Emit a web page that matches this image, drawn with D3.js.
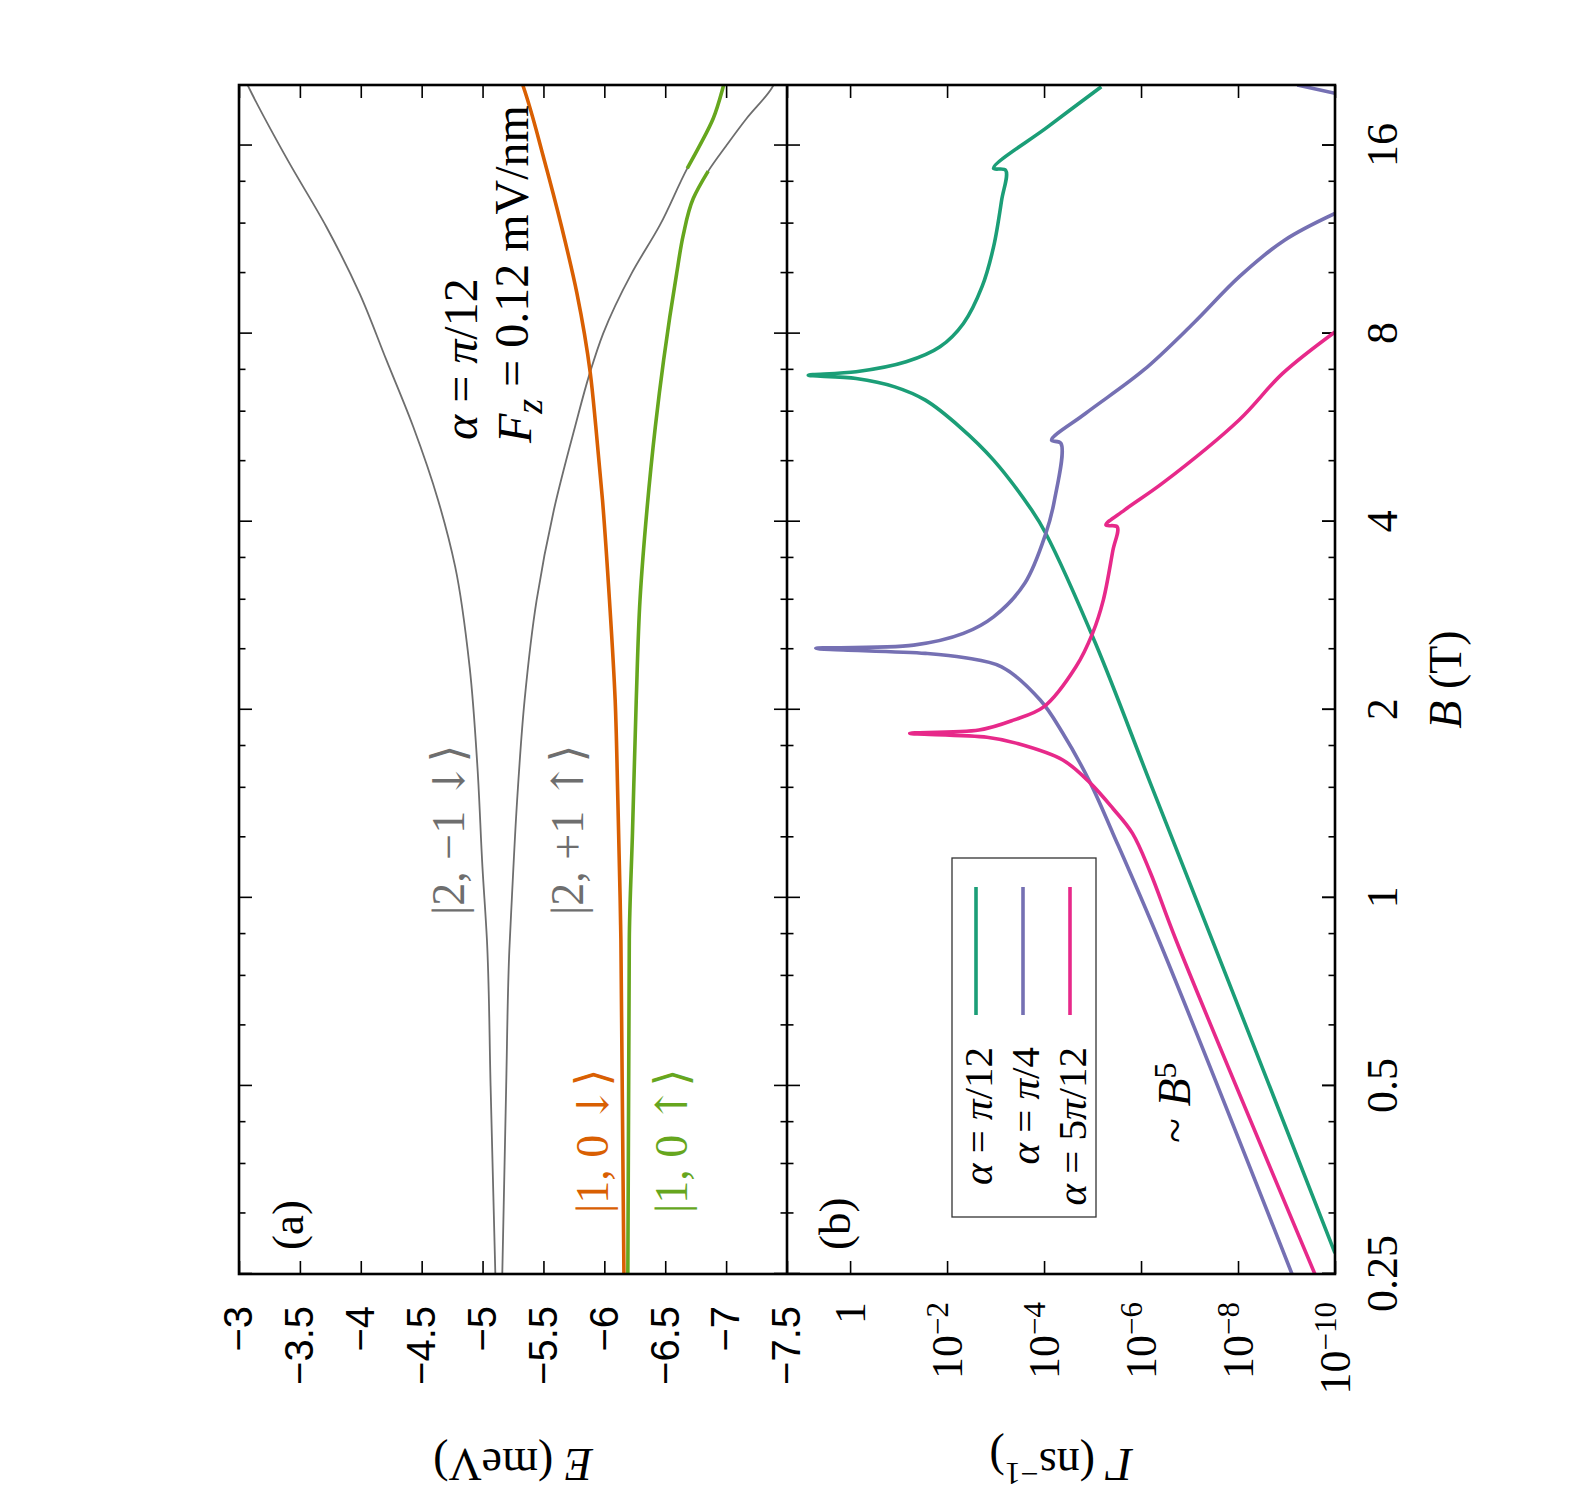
<!DOCTYPE html>
<html>
<head>
<meta charset="utf-8">
<script src="https://cdn.jsdelivr.net/npm/d3@7"></script>
<style>
  body { margin: 0; background: #fff; }
  text { font-family: "Liberation Serif", "Times New Roman", serif; }
</style>
</head>
<body>
<script>
// ---- data ----
const bMajor = [0.25, 0.5, 1, 2, 4, 8, 16];
const eTicks = [-3, -3.5, -4, -4.5, -5, -5.5, -6, -6.5, -7, -7.5];
const gammaExp = [0, -2, -4, -6, -8, -10];

// panel (a): energies E (meV) vs B (T)
const bGrey1 = [0.25, 0.5, 0.856, 1.121, 1.62, 2.34, 3.39, 4.33, 5.68, 7.26, 9.28, 11.86, 15.16, 19.4, 20];
const eGrey1 = [-5.105, -5.066, -5.036, -4.999, -4.958, -4.894, -4.775, -4.635, -4.43, -4.21, -3.99, -3.717, -3.40, -3.104, -3.07];

// upper level of the anticrossing pair (|2,+1 up> below ~14.7 T)
const bGrey2 = [0.25, 0.5, 0.825, 0.992, 1.434, 2.07, 2.996, 4.18, 5.68, 6.91, 8.0, 9.99, 11.93, 14.71, 16.02, 17.68, 19.87, 20];
const eGrey2 = [-5.162, -5.194, -5.22, -5.24, -5.284, -5.345, -5.444, -5.586, -5.76, -5.88, -5.99, -6.224, -6.456, -6.681, -6.785, -6.894, -6.976, -6.98];

// lower level of the pair (|1,0 up> below ~14.6 T)
const bGrey3 = [0.25, 0.856, 1.268, 2.07, 3.0, 4.18, 5.68, 7.26, 9.99, 11.5, 13.16, 14.56, 16.02, 17.68, 19.75, 20];
const eGrey3 = [-6.193, -6.205, -6.231, -6.262, -6.293, -6.35, -6.419, -6.487, -6.594, -6.648, -6.73, -6.853, -7.004, -7.168, -7.373, -7.39];

const bOrange = [0.25, 0.856, 0.992, 1.434, 2.07, 3.0, 4.33, 5.68, 6.91, 9.28, 11.86, 15.16, 19.87, 20];
const eOrange = [-6.161, -6.136, -6.13, -6.111, -6.089, -6.042, -5.985, -5.93, -5.885, -5.775, -5.649, -5.507, -5.335, -5.33];

const bGreenLow = [0.25, 0.856, 1.268, 2.07, 3.0, 4.18, 5.68, 7.26, 9.99, 11.5, 13.16, 14.56];
const eGreenLow = [-6.193, -6.205, -6.231, -6.262, -6.293, -6.35, -6.419, -6.487, -6.594, -6.648, -6.73, -6.853];
const bGreenHigh = [14.71, 16.02, 17.68, 19.87, 20];
const eGreenHigh = [-6.681, -6.785, -6.894, -6.976, -6.98];

// panel (b): rates Gamma (ns^-1) vs B (T)
const bPi12 = [0.27, 0.856, 1.525, 2.555, 3.83, 4.175, 5.02, 5.675, 6.26, 6.575, 6.78, 6.865, 6.95, 7.21, 7.62, 8.305, 9.51, 11.01, 13.08, 14.61, 14.71, 17.14, 19.87];
const gPi12 = [1.0e-10, 3.4e-8, 6.4e-7, 8.7e-6, 9.2e-5, 1.8e-4, 1.1e-3, 5.5e-3, 2.8e-2, 0.12, 0.75, 7.3, 0.75, 7.0e-2, 1.4e-2, 4.6e-3, 1.9e-3, 1.1e-3, 7.5e-4, 6.2e-4, 1.1e-3, 8.4e-5, 6.6e-6];

const bPi4 = [0.25, 0.856, 1.268, 1.525, 1.834, 2.073, 2.343, 2.425, 2.462, 2.508, 2.538, 2.65, 2.817, 3.187, 3.83, 4.33, 5.34, 5.40, 5.96, 6.99, 8.305, 9.86, 11.29, 12.46, 16, 19.4, 20];
const gPi4 = [7.7e-10, 4.3e-7, 3.8e-6, 1.1e-5, 4.1e-5, 1.2e-4, 7.5e-4, 4.6e-3, 2.8e-2, 5.1, 4.9e-2, 4.6e-3, 1.1e-3, 2.5e-4, 9.2e-5, 6.1e-5, 4.5e-5, 7.0e-5, 1.4e-5, 8.9e-7, 8.4e-8, 9.5e-9, 1.1e-9, 1.0e-10, null, 1.0e-10, 6.0e-10];

const b5Pi12 = [0.25, 0.856, 1.1, 1.268, 1.39, 1.525, 1.662, 1.767, 1.807, 1.834, 1.856, 1.925, 2.023, 2.343, 2.65, 2.996, 3.60, 3.925, 3.95, 4.175, 4.61, 5.82, 6.91, 8.05];
const g5Pi12 = [2.6e-10, 1.9e-7, 6.5e-7, 1.5e-6, 3.8e-6, 1.1e-5, 4.1e-5, 3.6e-4, 1.5e-3, 5.9e-2, 2.2e-3, 4.3e-4, 1.0e-4, 2.2e-5, 1.0e-5, 6.0e-6, 3.8e-6, 3.1e-6, 5.3e-6, 2.2e-6, 3.6e-7, 9.5e-9, 1.2e-9, 1.0e-10];

const legendLabels = ["π/12", "π/4", "5π/12"];

// ---- layout (drawn unrotated, then turned by -90 degrees) ----
const W = 1189, PH = 548;
const grey = "#6e6e6e";
const cOrange = "#d95f02", cGreenA = "#66a61e";
const cPi12 = "#1b9e77", cPi4 = "#7570b3", c5Pi12 = "#e7298a";

const svg = d3.select("body").append("svg").attr("width", 1575).attr("height", 1500);
const g = svg.append("g").attr("transform", "translate(239,1274) rotate(-90)");

const x = d3.scaleLog().base(2).domain([0.25, 20]).range([0, W]);
const yE = d3.scaleLinear().domain([-3, -7.5]).range([0, PH]);
const yG = d3.scaleLog().domain([20, 1e-10]).range([PH, 2 * PH]);

const defs = svg.append("defs");
defs.append("clipPath").attr("id", "clipA").append("rect").attr("width", W).attr("height", PH);
defs.append("clipPath").attr("id", "clipB").append("rect").attr("y", PH).attr("width", W).attr("height", PH);

const bMinor = [];
bMajor.forEach(b => [1.25, 1.5, 1.75].forEach(f => { if (b * f < 20) bMinor.push(b * f); }));

function tickAxis(axis, tx, ty) {
  const a = g.append("g").attr("transform", `translate(${tx},${ty})`).call(axis);
  a.select(".domain").remove();
  a.selectAll(".tick line").attr("stroke", "#000").attr("stroke-width", 1.6);
  return a;
}

// B ticks on every horizontal edge of both panels
[[0, 13], [PH, -13], [PH, 13], [2 * PH, -13]].forEach(([v, s]) => {
  tickAxis(d3.axisBottom(x).tickValues(bMajor).tickSize(s).tickFormat(""), 0, v);
  tickAxis(d3.axisBottom(x).tickValues(bMinor).tickSize(s / 2).tickFormat(""), 0, v);
});

// B labels
const bAx = tickAxis(d3.axisBottom(x).tickValues(bMajor).tickSize(-13).tickPadding(31).tickFormat(d => String(d)), 0, 2 * PH);
bAx.selectAll("text").attr("font-size", 44).attr("fill", "#000")
  .style("font-family", '"Liberation Serif", serif');

// E ticks and labels
const eAx = tickAxis(d3.axisLeft(yE).tickValues(eTicks).tickSize(-13).tickPadding(32).tickFormat(d3.format("")), 0, 0);
eAx.selectAll("text").attr("font-size", 40).attr("fill", "#000")
  .style("font-family", '"Liberation Sans", Arial, sans-serif');
tickAxis(d3.axisLeft(yE).tickValues(eTicks).tickSize(13).tickFormat(""), W, 0);

// Gamma ticks and labels
const gVals = gammaExp.map(e => Math.pow(10, e));
tickAxis(d3.axisLeft(yG).tickValues(gVals).tickSize(-13).tickFormat(""), 0, 0);
tickAxis(d3.axisLeft(yG).tickValues(gVals).tickSize(13).tickFormat(""), W, 0);
gammaExp.forEach(e => {
  const t = g.append("text").attr("x", -28).attr("y", yG(Math.pow(10, e)))
    .attr("dy", "0.34em").attr("text-anchor", "end").attr("font-size", 44);
  if (e === 0) t.text("1");
  else {
    t.append("tspan").text("10");
    t.append("tspan").attr("dy", "-0.45em").attr("font-size", 31).text("−" + Math.abs(e));
  }
});

// curves
const lineA = d3.line().curve(d3.curveMonotoneX).x(d => x(d[0])).y(d => yE(d[1]));
const lineB = d3.line().curve(d3.curveCatmullRom.alpha(0.5))
  .defined(d => d[1] != null).x(d => x(d[0])).y(d => yG(d[1]));
const plotA = g.append("g").attr("clip-path", "url(#clipA)");
const plotB = g.append("g").attr("clip-path", "url(#clipB)");

[[bGrey1, eGrey1], [bGrey2, eGrey2], [bGrey3, eGrey3]].forEach(([b, e]) => {
  plotA.append("path").attr("d", lineA(d3.zip(b, e)))
    .attr("fill", "none").attr("stroke", grey).attr("stroke-width", 1.8);
});
plotA.append("path").attr("d", lineA(d3.zip(bOrange, eOrange)))
  .attr("fill", "none").attr("stroke", cOrange).attr("stroke-width", 3.6);
[[bGreenLow, eGreenLow], [bGreenHigh, eGreenHigh]].forEach(([b, e]) => {
  plotA.append("path").attr("d", lineA(d3.zip(b, e)))
    .attr("fill", "none").attr("stroke", cGreenA).attr("stroke-width", 3.6);
});

const seriesB = [[bPi12, gPi12, cPi12], [bPi4, gPi4, cPi4], [b5Pi12, g5Pi12, c5Pi12]];
seriesB.forEach(([b, v, c]) => {
  plotB.append("path").attr("d", lineB(d3.zip(b, v)))
    .attr("fill", "none").attr("stroke", c).attr("stroke-width", 3.6);
});

// frame
g.append("rect").attr("width", W).attr("height", 2 * PH)
  .attr("fill", "none").attr("stroke", "#000").attr("stroke-width", 2.6);
g.append("line").attr("x1", 0).attr("x2", W).attr("y1", PH).attr("y2", PH)
  .attr("stroke", "#000").attr("stroke-width", 2.6);

// texts
function label(u, v, size, color) {
  return g.append("text").attr("x", u).attr("y", v).attr("font-size", size).attr("fill", color || "#000");
}
function it(t, s) { t.append("tspan").attr("font-style", "italic").text(s); }
function ket(t, head, arrow) {
  t.append("tspan").text(head);
  t.append("tspan").attr("font-family", '"DejaVu Serif", serif').attr("font-size", 44).text(arrow);
  t.append("tspan").attr("font-family", '"DejaVu Serif", serif').text("⟩");
}

label(24, 64, 45).text("(a)");
label(24, 611, 45).text("(b)");

ket(label(359, 225, 46, grey), "|2, −1 ", "↓");
ket(label(359, 344, 46, grey), "|2, +1 ", "↑");
ket(label(61, 369, 46, cOrange), "|1, 0 ", "↓");
ket(label(61, 448, 46, cGreenA), "|1, 0 ", "↑");

let t = label(834, 238, 48);
it(t, "α"); t.append("tspan").text(" = "); it(t, "π"); t.append("tspan").text("/12");
t = label(831, 292, 48);
it(t, "F");
t.append("tspan").attr("dy", "0.28em").attr("font-style", "italic").attr("font-size", 38).text("z");
t.append("tspan").attr("dy", "-0.28em").text(" = 0.12 mV/nm");

t = label(131, 951, 46);
t.append("tspan").text("~ "); it(t, "B");
t.append("tspan").attr("dy", "-0.45em").attr("font-size", 32).text("5");

// axis titles
t = g.append("text").attr("text-anchor", "middle").attr("font-size", 46)
  .attr("transform", `translate(-175,${PH / 2}) rotate(-90)`);
it(t, "E"); t.append("tspan").text(" (meV)");

t = g.append("text").attr("text-anchor", "middle").attr("font-size", 46)
  .attr("transform", `translate(-175,${PH * 1.5}) rotate(-90)`);
it(t, "Γ"); t.append("tspan").text(" (ns");
t.append("tspan").attr("dy", "-0.45em").attr("font-size", 32).text("−1");
t.append("tspan").attr("dy", "0.45em").text(")");

t = g.append("text").attr("text-anchor", "middle").attr("font-size", 46)
  .attr("x", W / 2).attr("y", 2 * PH + 126);
it(t, "B"); t.append("tspan").text(" (T)");

// legend
g.append("rect").attr("x", 57).attr("y", 713).attr("width", 359).attr("height", 144)
  .attr("fill", "#fff").attr("stroke", "#333").attr("stroke-width", 1.3);
[cPi12, cPi4, c5Pi12].forEach((c, i) => {
  const base = 753 + i * 47;
  const lt = g.append("text").attr("x", 227).attr("y", base).attr("text-anchor", "end").attr("font-size", 41);
  it(lt, "α"); lt.append("tspan").text(" = ");
  const s = legendLabels[i];
  const k = s.indexOf("π");
  if (k > 0) lt.append("tspan").text(s.slice(0, k));
  it(lt, "π"); lt.append("tspan").text(s.slice(k + 1));
  g.append("line").attr("x1", 259).attr("x2", 387).attr("y1", base - 16).attr("y2", base - 16)
    .attr("stroke", c).attr("stroke-width", 3.6);
});
</script>
</body>
</html>
